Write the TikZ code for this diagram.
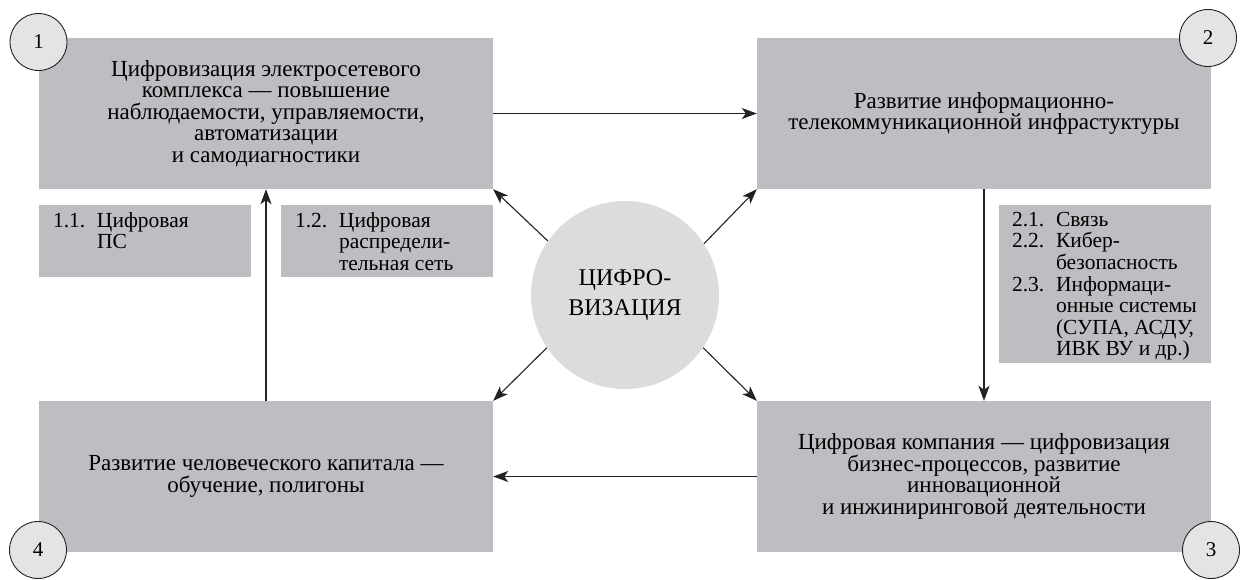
\documentclass[tikz,border=0pt]{standalone}
\usepackage{fontspec}
\newfontfamily\tms{Liberation Serif}
\usetikzlibrary{arrows.meta,calc}
\definecolor{boxgray}{HTML}{BDBEC2}
\definecolor{ctrgray}{HTML}{DCDCDE}
\definecolor{numgray}{HTML}{E4E4E6}
\definecolor{linegray}{HTML}{222222}
\begin{document}
\begin{tikzpicture}[x=1pt,y=-1pt,
  bigbox/.style={fill=boxgray, draw=none, minimum width=454pt, minimum height=151pt,
    align=center, inner sep=0pt, font=\tms\fontsize{23}{21.5}\selectfont},
  smallbox/.style={fill=boxgray, draw=none, minimum width=212pt, inner sep=0pt},
  smalltext/.style={anchor=north west, inner sep=0pt, font=\tms\fontsize{21.5}{21.5}\selectfont},
  numcirc/.style={circle, draw=linegray, line width=0.9pt, fill=numgray, minimum size=57pt,
    inner sep=0pt, font=\tms\fontsize{21}{24}\selectfont},
  ctr/.style={circle, fill=ctrgray, draw=none, minimum size=188pt, inner sep=0pt,
    align=center, font=\tms\fontsize{24}{30}\selectfont},
  arr/.style={draw=linegray, line width=1.1pt, -{Stealth[length=15pt,width=11pt,inset=4pt]}}
]
\useasboundingbox (0,0) rectangle (1241,579);

% big boxes
\node[bigbox] (b1) at (266,113.5) {Цифровизация электросетевого\\комплекса — повышение\\наблюдаемости, управляемости,\\автоматизации\\и самодиагностики};
\node[bigbox] (b2) at (984,113.5) {Развитие информационно-\\телекоммуникационной инфрастуктуры};
\node[bigbox] (b3) at (984,476.5) {Цифровая компания — цифровизация\\бизнес-процессов, развитие\\инновационной\\и инжиниринговой деятельности};
\node[bigbox] (b4) at (266,476.5) {Развитие человеческого капитала —\\обучение, полигоны};

% small boxes
\node[smallbox, minimum height=72pt] (b11) at (145,241) {};
\node[smallbox, minimum height=72pt] (b12) at (387,241) {};
\node[smallbox, minimum height=158pt] (b2x) at (1105,284) {};

\node[smalltext] (t11) at ($(b11.north west)+(14,7)$)
  {\begin{tabular}{@{}p{44pt}@{}l@{}}1.1.&Цифровая\\&ПС\end{tabular}};
\node[smalltext] (t12) at ($(b12.north west)+(14,7)$)
  {\begin{tabular}{@{}p{44pt}@{}l@{}}1.2.&Цифровая\\&распредели-\\&тельная сеть\end{tabular}};
\node[smalltext] (t2x) at ($(b2x.north west)+(13,6)$)
  {\begin{tabular}{@{}p{44pt}@{}l@{}}2.1.&Связь\\2.2.&Кибер-\\&безопасность\\2.3.&Информаци-\\&онные системы\\&(СУПА, АСДУ,\\&ИВК ВУ и др.)\end{tabular}};

% centre
\node[ctr] (c) at (625,295) {ЦИФРО-\\ВИЗАЦИЯ};

% connectors
\draw[arr] (b1.east) -- (b2.west);
\draw[arr] (b3.west) -- (b4.east);
\draw[arr] (b2.south) -- (b3.north);
\draw[arr] (b4.north) -- (b1.south);
\draw[arr] (c.145.4) -- (b1.south east);
\draw[arr] (c.33.7) -- (b2.south west);
\draw[arr] (c.214.2) -- (b4.north east);
\draw[arr] (c.326.3) -- (b3.north west);

% number circles
\node[numcirc] (n1) at (38.5,42) {1};
\node[numcirc] (n2) at (1208,38) {2};
\node[numcirc] (n3) at (1211,550) {3};
\node[numcirc] (n4) at (38,550) {4};
\end{tikzpicture}
\end{document}
